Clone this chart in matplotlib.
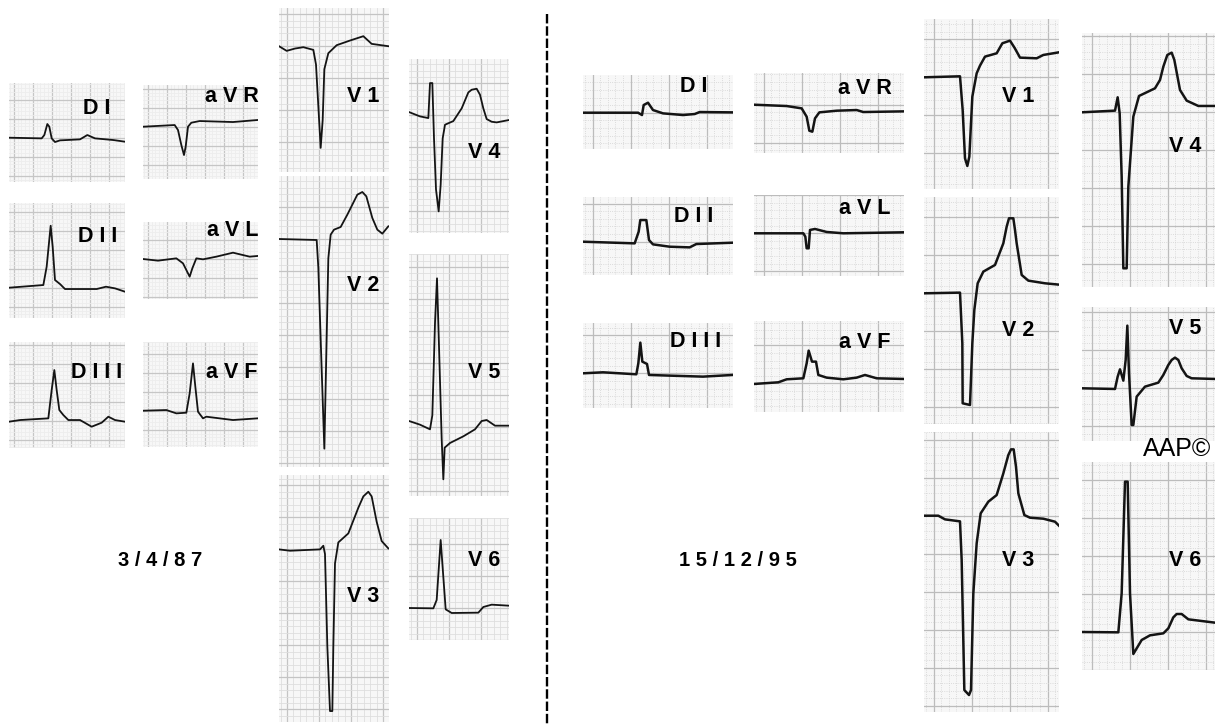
#!/usr/bin/env python3
"""two ECG recordings side by side, 3/4/87 and 15/12/95"""
import matplotlib
matplotlib.use('Agg')
import matplotlib.pyplot as plt
import numpy as np

W, H = 1215, 724
plt.rcParams['font.family'] = ['Liberation Sans', 'DejaVu Sans']

# traces: t and v in thirds of a pixel, v up from baseline
a_di_t = [0, 98, 106, 115, 121, 128, 138, 153, 213, 235, 258, 313, 348]
a_di_v = [0, -2, 8, 41, 33, -2, -13, -8, -5, 8, -2, -7, -12]
a_dii_t = [0, 103, 113, 125, 131, 138, 153, 168, 263, 291, 318, 348]
a_dii_v = [0, 8, 63, 186, 123, 23, 11, -4, -4, 3, -2, -12]
a_diii_t = [0, 33, 118, 128, 136, 143, 151, 163, 178, 213, 248, 278, 298, 318, 348]
a_diii_v = [-3, 2, 7, 92, 152, 92, 32, 17, 2, 2, -18, -6, 12, 2, -3]
a_avr_t = [0, 95, 105, 115, 123, 128, 135, 145, 170, 270, 343]
a_avr_v = [0, 5, -10, -55, -85, -60, 0, 12, 17, 14, 20]
a_avl_t = [0, 45, 100, 120, 130, 140, 148, 160, 180, 220, 270, 320, 343]
a_avl_v = [0, -5, 2, -13, -33, -53, -28, 2, -1, 7, 19, 7, 9]
a_avf_t = [0, 70, 100, 130, 140, 150, 157, 165, 180, 190, 270, 343]
a_avf_v = [0, 2, -8, -6, 52, 142, 72, -3, -23, -18, -28, -23]
a_v1_t = [0, 23, 48, 73, 103, 111, 118, 125, 131, 136, 148, 173, 213, 253, 278, 328]
a_v1_v = [0, -14, -7, -3, -11, -55, -180, -305, -222, -69, -21, 3, 17, 30, 7, 0]
a_v2_t = [0, 113, 118, 128, 136, 141, 148, 155, 165, 185, 205, 235, 250, 262, 280, 295, 310, 328]
a_v2_v = [0, -3, -86, -391, -629, -391, -58, 13, 28, 36, 73, 133, 141, 128, 63, 28, 16, 38]
a_v3_t = [0, 33, 123, 133, 138, 145, 153, 160, 163, 168, 178, 208, 238, 253, 268, 278, 293, 308, 328]
a_v3_v = [0, -4, 0, 11, -14, -291, -485, -485, -291, -42, 21, 48, 125, 159, 173, 159, 83, 25, 3]
a_v4_t = [0, 33, 58, 63, 70, 75, 81, 89, 95, 101, 108, 133, 158, 178, 188, 203, 213, 223, 233, 248, 263, 299]
a_v4_v = [10, -3, -8, 97, 97, -69, -222, -288, -208, -69, -28, -17, 21, 69, 77, 80, 62, 21, -11, -19, -21, -14]
a_v5_t = [0, 33, 63, 70, 78, 84, 90, 98, 103, 107, 123, 163, 198, 218, 233, 258, 299]
a_v5_v = [18, 7, -7, 35, 312, 446, 242, -35, -157, -62, -48, -28, -7, 18, 21, 4, 4]
a_v6_t = [0, 73, 83, 95, 103, 110, 128, 208, 223, 248, 299]
a_v6_v = [0, -1, 24, 204, 93, -4, -15, -14, 3, 10, 7]

b_di_t = [0, 165, 177, 182, 195, 210, 240, 300, 335, 350, 449]
b_di_v = [0, 0, -7, 23, 30, 8, -2, -7, -4, 2, 1]
b_dii_t = [0, 155, 167, 172, 190, 198, 210, 260, 320, 340, 449]
b_dii_v = [0, -5, 30, 65, 65, 5, -8, -15, -17, -7, -3]
b_diii_t = [0, 60, 160, 166, 172, 178, 192, 198, 260, 360, 449]
b_diii_v = [0, 3, -3, 30, 92, 35, 28, -5, -7, -10, -5]
b_avr_t = [0, 98, 143, 158, 166, 175, 183, 196, 248, 308, 328, 449]
b_avr_v = [0, -4, -11, -36, -78, -81, -41, -23, -18, -16, -22, -20]
b_avl_t = [0, 148, 154, 158, 164, 168, 183, 218, 268, 449]
b_avl_v = [0, 0, -10, -45, -45, 10, 13, 4, 0, 3]
b_avf_t = [0, 73, 98, 148, 158, 164, 174, 186, 193, 218, 268, 308, 333, 368, 449]
b_avf_v = [-2, 3, 12, 15, 60, 98, 65, 65, 25, 17, 12, 17, 25, 15, 13]
b_v1_t = [0, 108, 116, 123, 130, 136, 145, 158, 168, 183, 218, 235, 258, 272, 288, 338, 358, 405]
b_v1_v = [0, 3, -98, -243, -266, -238, -58, 12, 35, 62, 72, 102, 110, 88, 59, 57, 67, 75]
b_v2_t = [0, 108, 115, 116, 138, 145, 151, 161, 178, 213, 238, 248, 255, 268, 273, 278, 293, 313, 363, 405]
b_v2_v = [0, 2, -150, -330, -335, -150, -50, 30, 65, 85, 150, 200, 225, 225, 190, 150, 55, 38, 30, 26]
b_v3_t = [0, 43, 63, 108, 113, 121, 135, 141, 148, 158, 170, 193, 218, 238, 253, 261, 269, 276, 283, 301, 318, 358, 393, 405]
b_v3_v = [0, 0, -11, -17, -133, -523, -538, -523, -233, -83, 7, 42, 62, 127, 182, 199, 199, 147, 67, 2, -6, -9, -18, -30]
b_v4_t = [0, 99, 107, 113, 119, 124, 134, 139, 154, 171, 219, 234, 244, 256, 269, 277, 294, 314, 349, 399]
b_v4_v = [0, 5, 45, -3, -193, -468, -468, -223, -13, 49, 72, 97, 137, 172, 179, 157, 67, 35, 19, 19]
b_v5_t = [0, 99, 107, 114, 124, 131, 136, 141, 149, 154, 164, 189, 229, 244, 259, 269, 279, 289, 299, 314, 329, 399]
b_v5_v = [0, -2, 35, 57, 23, 85, 188, 45, -110, -110, -25, 5, 17, 40, 70, 85, 92, 85, 60, 37, 30, 28]
b_v6_t = [0, 109, 119, 129, 137, 144, 154, 179, 204, 244, 259, 274, 284, 299, 319, 359, 399]
b_v6_v = [0, -1, 116, 451, 451, 116, -66, -24, -10, -4, 11, 44, 54, 54, 38, 33, 28]

# left, top, width, height, baseline (pixels), then the trace
limb_87 = [
    (9, 83, 116, 99, 137.7, a_di_t, a_di_v),
    (9, 203, 116, 115, 287.7, a_dii_t, a_dii_v),
    (9, 342, 116, 106, 420.7, a_diii_t, a_diii_v),
    (143, 85, 114.5, 94, 126.7, a_avr_t, a_avr_v),
    (143, 222, 114.5, 77, 259, a_avl_t, a_avl_v),
    (143, 342, 114.5, 104.5, 410.7, a_avf_t, a_avf_v),
]
chest_87 = [
    (279, 8, 110, 164, 46.2, a_v1_t, a_v1_v),
    (279, 176, 110, 291, 239, a_v2_t, a_v2_v),
    (279, 475, 110, 247, 549.4, a_v3_t, a_v3_v),
    (409, 59, 100, 174, 115.4, a_v4_t, a_v4_v),
    (409, 254, 100, 242, 427, a_v5_t, a_v5_v),
    (409, 518, 100, 122, 608, a_v6_t, a_v6_v),
]
panels_95 = [
    (583, 75, 150, 74, 112.7, b_di_t, b_di_v),
    (583, 197, 150, 78, 241.7, b_dii_t, b_dii_v),
    (583, 323, 150, 85, 373.3, b_diii_t, b_diii_v),
    (754, 73, 150, 80, 104.7, b_avr_t, b_avr_v),
    (754, 195, 150, 81, 233.3, b_avl_t, b_avl_v),
    (754, 321, 150, 91, 383.3, b_avf_t, b_avf_v),
    (924, 19, 135, 170, 77.3, b_v1_t, b_v1_v),
    (924, 197, 135, 227, 293.3, b_v2_t, b_v2_v),
    (924, 432, 135, 280, 515.7, b_v3_t, b_v3_v),
    (1082, 33, 133, 254, 112.3, b_v4_t, b_v4_v),
    (1082, 307, 133, 134, 388.3, b_v5_t, b_v5_v),
    (1082, 462, 133, 208, 632, b_v6_t, b_v6_v),
]

labels = [
    ('D I', 97, 108), ('D I I', 98, 237), ('D I I I', 97, 373),
    ('a V R', 232, 97), ('a V L', 233, 231), ('a V F', 232, 373),
    ('V 1', 363, 97), ('V 2', 363, 286), ('V 3', 363, 597),
    ('V 4', 484, 152), ('V 5', 484, 373), ('V 6', 484, 561),
    ('D I', 694, 87), ('D I I', 694, 217), ('D I I I', 696, 342),
    ('a V R', 865, 88), ('a V L', 865, 209), ('a V F', 865, 343),
    ('V 1', 1018, 97), ('V 2', 1018, 331), ('V 3', 1018, 561),
    ('V 4', 1185, 147), ('V 5', 1185, 329), ('V 6', 1185, 561),
]
dates = [('3 / 4 / 8 7', 160, 561), ('1 5 / 1 2 / 9 5', 738, 561)]


def draw_panel(fig, panel, major, minor, major_col, minor_col, minor_style, lw):
    left, top, w, h, base, t, v = panel
    ax = fig.add_axes([left / W, 1 - (top + h) / H, w / W, h / H])
    y0, y1 = (base - top - h) * 3, (base - top) * 3
    first = np.ceil(y0 / major) * major
    ax.set_facecolor('#f7f7f7')
    ax.set_xticks(np.arange(major / 4, w * 3, major))
    ax.set_yticks(np.arange(first, y1, major))
    ax.set_xticks(np.arange(major / 4 - major, w * 3, minor), minor=True)
    ax.set_yticks(np.arange(first - major, y1, minor), minor=True)
    ax.set_xlim(0, w * 3)
    ax.set_ylim(y0, y1)
    ax.grid(True, which='minor', color=minor_col, lw=0.6, ls=minor_style)
    ax.grid(True, which='major', color=major_col, lw=0.9)
    ax.set_axisbelow(True)
    ax.tick_params(which='both', length=0, labelbottom=False, labelleft=False)
    for s in ax.spines.values():
        s.set_visible(False)
    ax.plot(t, v, color='#141414', lw=lw, solid_joinstyle='round')


fig = plt.figure(figsize=(W / 100, H / 100), dpi=100, facecolor='white')

for p in limb_87:
    draw_panel(fig, p, 57, 57 / 5, '#c6c6c6', '#ededed', '-', 1.3)
for p in chest_87:
    draw_panel(fig, p, 96, 19.2, '#c4c4c4', '#dedede', '-', 1.3)
for p in panels_95:
    draw_panel(fig, p, 114, 22.8, '#bcbcbc', '#d2d2d2', ':', 1.8)

for txt, x, y in labels:
    fig.text(x / W, 1 - y / H, txt, fontsize=15.5, fontweight='bold', ha='center', va='center', color='black')
for txt, x, y in dates:
    fig.text(x / W, 1 - y / H, txt, fontsize=14.5, fontweight='bold', ha='center', va='center', color='black')
fig.text(1177 / W, 1 - 449 / H, 'AAP©', fontsize=18, ha='center', va='center', color='black')

# divider between the two recordings
fig.add_artist(plt.Line2D([547 / W, 547 / W], [1 - 14 / H, 0], color='black', lw=1.7, ls=(0, (4, 1.2))))

fig.savefig('out.png', dpi=100)
